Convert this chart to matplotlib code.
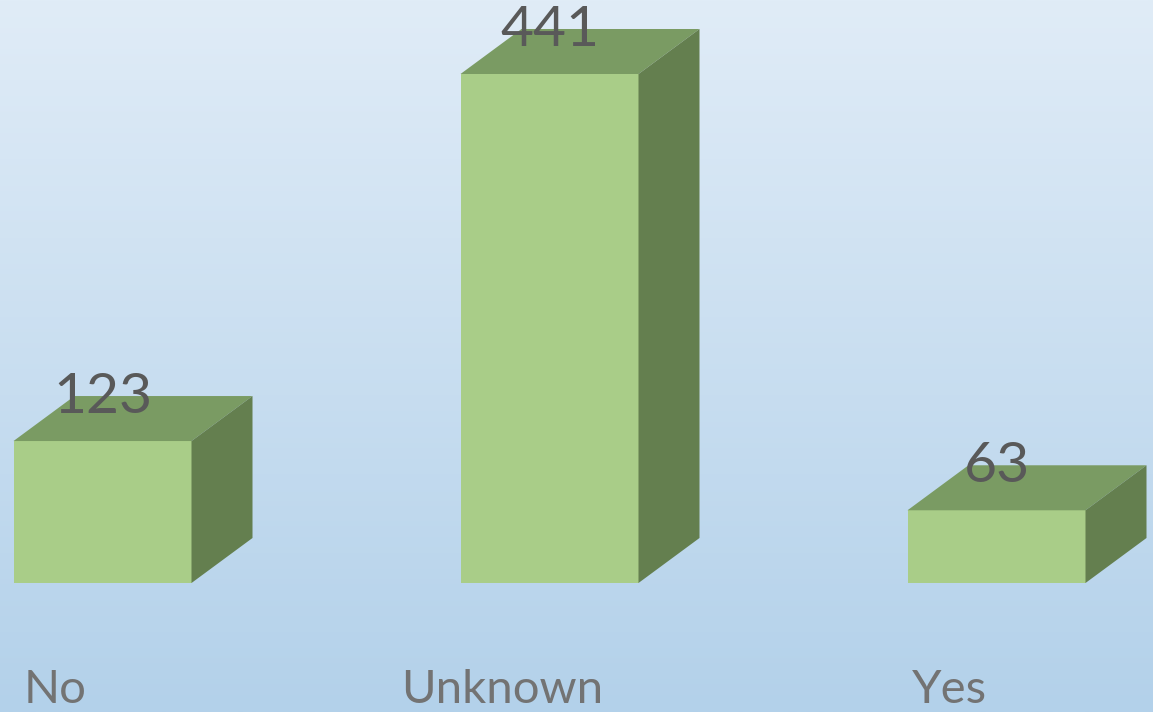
import matplotlib.pyplot as plt
import numpy as np
from matplotlib.patches import Polygon

categories = ["No", "Unknown", "Yes"]
counts = [123, 441, 63]

FRONT = "#a9cd88"
TOP = "#7a9b63"
SIDE = "#647f4f"


def main() -> None:
    plt.rcParams["font.family"] = ["Lato", "DejaVu Sans"]
    fig = plt.figure(figsize=(11.53, 7.12), dpi=100)
    ax = fig.add_axes([0, 0, 1, 1])

    # pixel -> data scale: 447 px per category, ~1.154 px per count
    px_x = 447.0
    px_y = 509.0 / 441.0
    x0 = -102.5 / px_x
    xlim = (x0, x0 + 1153 / px_x)
    ylim = (-(712 - 583) / px_y, 583 / px_y)
    ax.axis("off")

    # background gradient, light at top, darker blue at bottom
    grad = np.linspace(0, 1, 256).reshape(-1, 1)
    top_c = np.array([0xe0, 0xec, 0xf7]) / 255
    bot_c = np.array([0xb3, 0xd1, 0xea]) / 255
    img = top_c + (bot_c - top_c) * grad[:, :, None]
    ax.imshow(img, extent=(xlim[0], xlim[1], ylim[0], ylim[1]), aspect="auto",
              origin="upper", zorder=0)
    ax.set_xlim(*xlim)
    ax.set_ylim(*ylim)

    width = 178 / px_x
    dx = 61 / px_x
    dy = 45 / px_y
    for i, (cat, v) in enumerate(zip(categories, counts)):
        left = i - width / 2
        right = i + width / 2
        ax.add_patch(Polygon([(left, 0), (right, 0), (right, v), (left, v)],
                             closed=True, facecolor=FRONT, edgecolor="none", zorder=2))
        ax.add_patch(Polygon([(left, v), (right, v), (right + dx, v + dy), (left + dx, v + dy)],
                             closed=True, facecolor=TOP, edgecolor="none", zorder=2))
        ax.add_patch(Polygon([(right, 0), (right + dx, dy), (right + dx, v + dy), (right, v)],
                             closed=True, facecolor=SIDE, edgecolor="none", zorder=2))
        ax.text(i, v + 28 / px_y, str(v), ha="center", va="baseline",
                fontsize=41, color="#595959", zorder=3)
        ax.text(i - 47 / px_x, -120 / px_y, cat, ha="center", va="baseline",
                fontsize=34, color="#737373", zorder=3)

    fig.savefig("out.png", dpi=100)
    plt.close(fig)


if __name__ == "__main__":
    main()
